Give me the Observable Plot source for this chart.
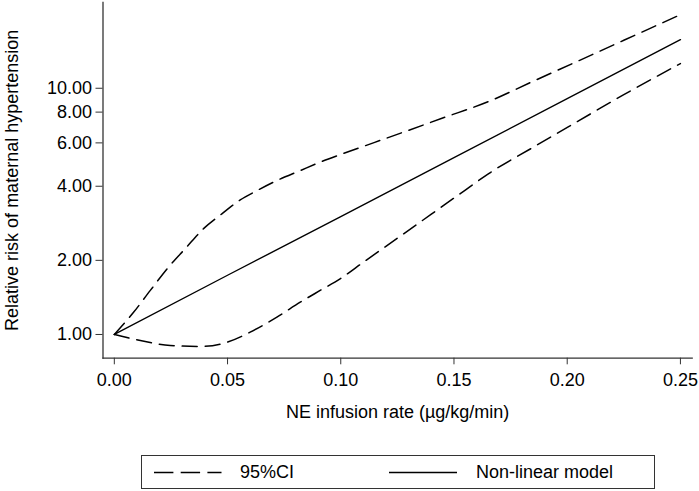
<!DOCTYPE html>
<html>
<head>
<meta charset="utf-8">
<script src="https://cdn.jsdelivr.net/npm/d3@7"></script>
<script src="https://cdn.jsdelivr.net/npm/@observablehq/plot@0.6"></script>
<style>
  html, body { margin: 0; padding: 0; background: #fff; }
  #wrap { position: relative; width: 699px; height: 491px; font-family: "Liberation Sans", Arial, Helvetica, sans-serif; }
  #legend { position: absolute; left: 141px; top: 455px; width: 514px; height: 34px; box-sizing: border-box; border: 1.3px solid #333; }
  #legend svg { position: absolute; left: 0; top: 0; }
  #legend span { position: absolute; top: 5px; font-size: 18px; line-height: 22px; color: #000; }
</style>
</head>
<body>
<div id="wrap">
  <div id="chart"></div>
  <div id="legend"></div>
</div>
<script>
// ---- data ----
const xTicks = [0, 0.05, 0.10, 0.15, 0.20, 0.25];
const yTicks = [1, 2, 4, 6, 8, 10];

// Non-linear model (point estimate)
const modelX  = [0, 0.05, 0.10, 0.15, 0.20, 0.25];
const modelRR = [1.00, 1.74, 3.01, 5.23, 9.07, 15.76];

// Upper 95% CI
const upperX  = [0, 0.0085, 0.0159, 0.024, 0.0313, 0.0394, 0.0475, 0.0556, 0.063, 0.0718, 0.0821, 0.0909, 0.0997, 0.115, 0.13, 0.145, 0.165, 0.185, 0.205, 0.225, 0.25];
const upperRR = [1.00, 1.23, 1.51, 1.88, 2.23, 2.69, 3.09, 3.52, 3.84, 4.22, 4.63, 5.01, 5.37, 6.03, 6.75, 7.57, 8.81, 10.68, 12.92, 15.66, 19.9];

// Lower 95% CI
const lowerX  = [0, 0.0115, 0.0247, 0.038, 0.0498, 0.060, 0.0718, 0.0821, 0.0909, 0.0997, 0.11, 0.125, 0.14, 0.155, 0.165, 0.185, 0.205, 0.225, 0.25];
const lowerRR = [1.00, 0.945, 0.902, 0.894, 0.930, 1.022, 1.176, 1.352, 1.509, 1.683, 1.966, 2.46, 3.08, 3.86, 4.48, 5.76, 7.37, 9.42, 12.6];

const xLabel = "NE infusion rate (µg/kg/min)";
const yLabel = "Relative risk of maternal hypertension";
const legendItems = ["95%CI", "Non-linear model"];

// ---- build tables ----
const model = modelX.map((x, i) => ({x, y: modelRR[i]}));
const upper = upperX.map((x, i) => ({x, y: upperRR[i]}));
const lower = lowerX.map((x, i) => ({x, y: lowerRR[i]}));

const font = '"Liberation Sans", Arial, Helvetica, sans-serif';
const dash = "15,8";

const chart = Plot.plot({
  width: 699,
  height: 440,
  marginLeft: 102.5,
  marginRight: 7.3,
  marginTop: 2,
  marginBottom: 82.3,
  style: {fontFamily: font, fontSize: "18px", color: "#000", background: "#fff", overflow: "visible"},
  x: {domain: [-0.005, 0.2552]},
  y: {type: "log", domain: [0.801, 22.3]},
  marks: [
    Plot.frame({anchor: "left", stroke: "#333", strokeWidth: 1.3}),
    Plot.frame({anchor: "bottom", stroke: "#333", strokeWidth: 1.3}),
    Plot.axisY({ticks: yTicks, tickFormat: d3.format(".2f"), tickSize: 7, tickPadding: 4, label: null, stroke: "#333", fontSize: 18}),
    Plot.axisX({ticks: xTicks, tickFormat: d3.format(".2f"), tickSize: 6.6, tickPadding: 8.5, label: null, stroke: "#333", fontSize: 18}),
    Plot.line(upper, {x: "x", y: "y", stroke: "#000", strokeWidth: 1.5, strokeDasharray: dash, curve: "monotone-x"}),
    Plot.line(lower, {x: "x", y: "y", stroke: "#000", strokeWidth: 1.5, strokeDasharray: dash, curve: "monotone-x"}),
    Plot.line(model, {x: "x", y: "y", stroke: "#000", strokeWidth: 1.4}),
    Plot.text([yLabel], {text: d => d, frameAnchor: "left", rotate: -90, dx: -91, textAnchor: "middle", lineAnchor: "middle", fontSize: 18, fill: "#000"}),
    Plot.text([xLabel], {text: d => d, frameAnchor: "bottom", dy: 54, textAnchor: "middle", lineAnchor: "middle", fontSize: 18, fill: "#000"})
  ]
});
document.getElementById("chart").appendChild(chart);

// ---- legend (HTML below the SVG) ----
const legend = document.getElementById("legend");
const ns = "http://www.w3.org/2000/svg";
const ls = document.createElementNS(ns, "svg");
ls.setAttribute("width", 512); ls.setAttribute("height", 32);
function sample(x1, x2, dashed) {
  const l = document.createElementNS(ns, "line");
  l.setAttribute("x1", x1); l.setAttribute("x2", x2);
  l.setAttribute("y1", 16.5); l.setAttribute("y2", 16.5);
  l.setAttribute("stroke", "#000"); l.setAttribute("stroke-width", 1.5);
  if (dashed) l.setAttribute("stroke-dasharray", "19.4,7.3");
  ls.appendChild(l);
}
sample(12, 79.5, true);
sample(247, 315, false);
legend.appendChild(ls);
const t1 = document.createElement("span"); t1.textContent = legendItems[0]; t1.style.left = "98px"; legend.appendChild(t1);
const t2 = document.createElement("span"); t2.textContent = legendItems[1]; t2.style.left = "334px"; legend.appendChild(t2);
</script>
</body>
</html>
